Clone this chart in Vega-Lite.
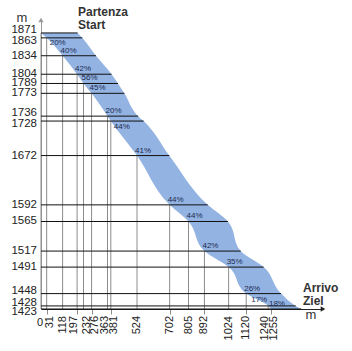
{
  "$schema": "https://vega.github.io/schema/vega-lite/v6.json",
  "width": 282,
  "height": 289,
  "autosize": {"type": "none"},
  "padding": {"left": 41, "top": 20, "right": 29, "bottom": 42},
  "background": "white",
  "config": {
    "view": {"stroke": null},
    "axis": {"labels": false, "grid": false, "titleFont": "Liberation Sans, sans-serif"}
  },
  "data": {"values": [
    {"dist": 0, "alt": 1871, "right": 200, "grade": null},
    {"dist": 31, "alt": 1863, "right": 225, "grade": "20%"},
    {"dist": 118, "alt": 1834, "right": 300, "grade": "40%"},
    {"dist": 197, "alt": 1804, "right": 385, "grade": "42%"},
    {"dist": 232, "alt": 1789, "right": 420, "grade": "56%"},
    {"dist": 276, "alt": 1773, "right": 455, "grade": "45%"},
    {"dist": 363, "alt": 1736, "right": 530, "grade": "20%"},
    {"dist": 381, "alt": 1728, "right": 560, "grade": "44%"},
    {"dist": 524, "alt": 1672, "right": 700, "grade": "41%"},
    {"dist": 702, "alt": 1592, "right": 910, "grade": "44%"},
    {"dist": 805, "alt": 1565, "right": 1020, "grade": "44%"},
    {"dist": 892, "alt": 1517, "right": 1090, "grade": "42%"},
    {"dist": 1024, "alt": 1491, "right": 1215, "grade": "35%"},
    {"dist": 1120, "alt": 1448, "right": 1310, "grade": "26%"},
    {"dist": 1240, "alt": 1428, "right": 1390, "grade": "17%"},
    {"dist": 1255, "alt": 1423, "right": 1420, "grade": "18%"}
  ]},
  "layer": [
    {
      "mark": {"type": "rule", "color": "#8c8c8c", "strokeWidth": 1},
      "encoding": {
        "x": {
          "field": "dist", "type": "quantitative",
          "scale": {"domain": [0, 1539], "nice": false, "zero": false},
          "axis": {
            "values": [31, 118, 197, 232, 276, 363, 381, 524, 702, 805, 892, 1024, 1120, 1240, 1255],
            "labels": false,
            "tickSize": 5,
            "tickColor": "#8c8c8c",
            "domainColor": "#222222",
            "grid": false,
            "title": "m",
            "titleAngle": 0,
            "titleX": 264,
            "titleY": 9,
            "titleAlign": "left",
            "titleBaseline": "alphabetic",
            "titleFontSize": 13,
            "titleFontWeight": "normal",
            "titleColor": "#333333"
          }
        },
        "y": {
          "field": "alt", "type": "quantitative",
          "scale": {"domain": [1423, 1892], "nice": false, "zero": false},
          "axis": {
            "values": [1871, 1863, 1834, 1804, 1789, 1773, 1736, 1728, 1672, 1592, 1565, 1517, 1491, 1448, 1428, 1423],
            "labels": false,
            "ticks": false,
            "domainColor": "#9a9a9a",
            "grid": false,
            "title": "m",
            "titleAngle": 0,
            "titleX": -25,
            "titleY": 1,
            "titleAlign": "left",
            "titleBaseline": "alphabetic",
            "titleFontSize": 13,
            "titleFontWeight": "normal",
            "titleColor": "#333333"
          }
        },
        "y2": {"datum": 1423}
      }
    },
    {
      "mark": {"type": "area", "orient": "horizontal", "interpolate": "monotone", "color": "#93b3e3", "opacity": 1},
      "encoding": {
        "y": {"field": "alt", "type": "quantitative"},
        "x": {"field": "dist", "type": "quantitative"},
        "x2": {"field": "right"}
      }
    },
    {
      "mark": {"type": "rule", "color": "#111111", "strokeWidth": 1},
      "encoding": {
        "x": {"field": "right", "type": "quantitative"},
        "x2": {"datum": 0},
        "y": {"field": "alt", "type": "quantitative"}
      }
    },
    {
      "transform": [{"filter": "indexof([1871, 1736, 1448, 1428], datum.alt) >= 0"}],
      "mark": {"type": "text", "align": "right", "baseline": "middle", "dx": -4, "dy": -3, "fontSize": 11.5, "font": "Liberation Sans Narrow, Liberation Sans, sans-serif", "color": "#222222"},
      "encoding": {"x": {"datum": 0, "type": "quantitative"}, "y": {"field": "alt", "type": "quantitative"}, "text": {"field": "alt", "type": "quantitative", "format": "d"}}
    },
    {
      "transform": [{"filter": "indexof([1863, 1728, 1423], datum.alt) >= 0"}],
      "mark": {"type": "text", "align": "right", "baseline": "middle", "dx": -4, "dy": 3, "fontSize": 11.5, "font": "Liberation Sans Narrow, Liberation Sans, sans-serif", "color": "#222222"},
      "encoding": {"x": {"datum": 0, "type": "quantitative"}, "y": {"field": "alt", "type": "quantitative"}, "text": {"field": "alt", "type": "quantitative", "format": "d"}}
    },
    {
      "transform": [{"filter": "indexof([1871, 1736, 1448, 1428, 1863, 1728, 1423], datum.alt) < 0"}],
      "mark": {"type": "text", "align": "right", "baseline": "middle", "dx": -4, "fontSize": 11.5, "font": "Liberation Sans Narrow, Liberation Sans, sans-serif", "color": "#222222"},
      "encoding": {"x": {"datum": 0, "type": "quantitative"}, "y": {"field": "alt", "type": "quantitative"}, "text": {"field": "alt", "type": "quantitative", "format": "d"}}
    },
    {
      "transform": [{"filter": "indexof([197, 363, 1240], datum.dist) >= 0"}],
      "mark": {"type": "text", "angle": 270, "align": "right", "baseline": "middle", "dx": -7, "dy": -3, "fontSize": 11, "font": "Liberation Sans Narrow, Liberation Sans, sans-serif", "color": "#222222"},
      "encoding": {"x": {"field": "dist", "type": "quantitative"}, "y": {"datum": 1423, "type": "quantitative"}, "text": {"field": "dist", "type": "quantitative", "format": "d"}}
    },
    {
      "transform": [{"filter": "indexof([31, 232, 276, 381, 1255], datum.dist) >= 0"}],
      "mark": {"type": "text", "angle": 270, "align": "right", "baseline": "middle", "dx": -7, "dy": 3, "fontSize": 11, "font": "Liberation Sans Narrow, Liberation Sans, sans-serif", "color": "#222222"},
      "encoding": {"x": {"field": "dist", "type": "quantitative"}, "y": {"datum": 1423, "type": "quantitative"}, "text": {"field": "dist", "type": "quantitative", "format": "d"}}
    },
    {
      "transform": [{"filter": "datum.dist > 0 && indexof([197, 363, 1240, 31, 232, 276, 381, 1255], datum.dist) < 0"}],
      "mark": {"type": "text", "angle": 270, "align": "right", "baseline": "middle", "dx": -7, "fontSize": 11, "font": "Liberation Sans Narrow, Liberation Sans, sans-serif", "color": "#222222"},
      "encoding": {"x": {"field": "dist", "type": "quantitative"}, "y": {"datum": 1423, "type": "quantitative"}, "text": {"field": "dist", "type": "quantitative", "format": "d"}}
    },
    {
      "transform": [{"filter": "datum.grade != null && datum.dist != 1240 && datum.dist != 31 && datum.dist != 381"}],
      "mark": {"type": "text", "align": "left", "baseline": "bottom", "dx": -2, "dy": -1, "fontSize": 8, "font": "Liberation Sans", "color": "#1c2a4e"},
      "encoding": {
        "x": {"field": "dist", "type": "quantitative"},
        "y": {"field": "alt", "type": "quantitative"},
        "text": {"field": "grade", "type": "nominal"}
      }
    },
    {
      "transform": [{"filter": "datum.dist == 31 || datum.dist == 381"}],
      "mark": {"type": "text", "align": "left", "baseline": "top", "dx": 3, "dy": 1.5, "fontSize": 8, "font": "Liberation Sans", "color": "#1c2a4e"},
      "encoding": {
        "x": {"field": "dist", "type": "quantitative"},
        "y": {"field": "alt", "type": "quantitative"},
        "text": {"field": "grade", "type": "nominal"}
      }
    },
    {
      "transform": [{"filter": "datum.dist == 1240"}],
      "mark": {"type": "text", "align": "right", "baseline": "bottom", "dx": -1, "dy": -2, "fontSize": 8, "font": "Liberation Sans", "color": "#1c2a4e"},
      "encoding": {
        "x": {"field": "dist", "type": "quantitative"},
        "y": {"field": "alt", "type": "quantitative"},
        "text": {"field": "grade", "type": "nominal"}
      }
    },
    {
      "data": {"values": [{"label": "0"}]},
      "mark": {"type": "text", "align": "center", "baseline": "alphabetic", "dx": -1, "dy": 17, "fontSize": 11, "font": "Liberation Sans Narrow, Liberation Sans, sans-serif", "color": "#222222"},
      "encoding": {"x": {"datum": 0, "type": "quantitative"}, "y": {"datum": 1423, "type": "quantitative"}, "text": {"field": "label", "type": "nominal"}}
    },
    {
      "data": {"values": [{"label": "Partenza"}]},
      "mark": {"type": "text", "align": "left", "baseline": "alphabetic", "dx": 37, "dy": -17, "fontSize": 12, "fontWeight": "bold", "font": "Liberation Sans", "color": "#333333"},
      "encoding": {"x": {"datum": 0, "type": "quantitative"}, "y": {"datum": 1871, "type": "quantitative"}, "text": {"field": "label", "type": "nominal"}}
    },
    {
      "data": {"values": [{"label": "Start"}]},
      "mark": {"type": "text", "align": "left", "baseline": "alphabetic", "dx": 37, "dy": -3.5, "fontSize": 12, "fontWeight": "bold", "font": "Liberation Sans", "color": "#333333"},
      "encoding": {"x": {"datum": 0, "type": "quantitative"}, "y": {"datum": 1871, "type": "quantitative"}, "text": {"field": "label", "type": "nominal"}}
    },
    {
      "data": {"values": [{"label": "Arrivo"}]},
      "mark": {"type": "text", "align": "left", "baseline": "alphabetic", "dx": 32, "dy": -17.5, "fontSize": 12, "fontWeight": "bold", "font": "Liberation Sans", "color": "#333333"},
      "encoding": {"x": {"datum": 1255, "type": "quantitative"}, "y": {"datum": 1423, "type": "quantitative"}, "text": {"field": "label", "type": "nominal"}}
    },
    {
      "data": {"values": [{"label": "Ziel"}]},
      "mark": {"type": "text", "align": "left", "baseline": "alphabetic", "dx": 32, "dy": -4, "fontSize": 12, "fontWeight": "bold", "font": "Liberation Sans", "color": "#333333"},
      "encoding": {"x": {"datum": 1255, "type": "quantitative"}, "y": {"datum": 1423, "type": "quantitative"}, "text": {"field": "label", "type": "nominal"}}
    },
    {
      "data": {"values": [{"label": "y"}]},
      "mark": {"type": "point", "shape": "triangle-up", "filled": true, "size": 28, "color": "#9a9a9a", "opacity": 1},
      "encoding": {"x": {"datum": 0, "type": "quantitative"}, "y": {"datum": 1892, "type": "quantitative"}}
    },
    {
      "data": {"values": [{"label": "x"}]},
      "mark": {"type": "point", "shape": "triangle-right", "filled": true, "size": 28, "color": "#222222", "opacity": 1},
      "encoding": {"x": {"datum": 1539, "type": "quantitative"}, "y": {"datum": 1423, "type": "quantitative"}}
    }
  ]
}
